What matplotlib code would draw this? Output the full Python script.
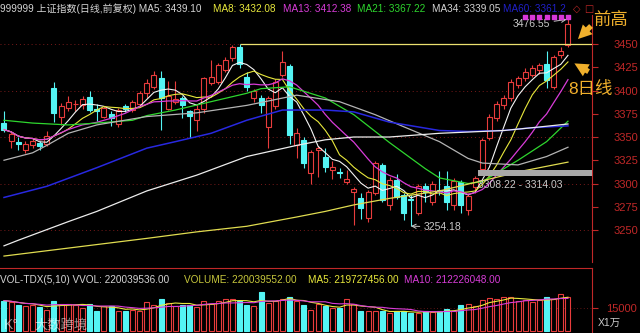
import matplotlib
matplotlib.use("Agg")
import matplotlib.pyplot as plt
import numpy as np
import pandas as pd
from matplotlib.patches import FancyArrowPatch

plt.rcParams["font.family"] = ["Liberation Sans", "Noto Sans CJK SC", "DejaVu Sans"]

# ---- daily candles ----
opens = [3365, 3346, 3345, 3336, 3341, 3344, 3342, 3403, 3372, 3381,
         3385, 3384, 3393, 3380, 3372, 3375, 3364, 3383, 3379, 3386,
         3397, 3404, 3413, 3380, 3388, 3392, 3378, 3368, 3380, 3408,
         3409, 3422, 3435, 3447, 3415, 3392, 3392, 3361, 3383, 3417,
         3426, 3341, 3347, 3311, 3336, 3329, 3315, 3312, 3302, 3291,
         3284, 3263, 3290, 3320, 3277, 3304, 3288, 3283, 3268, 3297,
         3280, 3293, 3297, 3277, 3302, 3272, 3296, 3316, 3349, 3370,
         3384, 3392, 3406, 3413, 3417, 3422, 3429, 3404, 3438, 3449]
closes = [3358, 3353, 3342, 3343, 3346, 3340, 3351, 3376, 3383, 3388,
          3386, 3391, 3379, 3378, 3381, 3370, 3379, 3380, 3388, 3397,
          3408, 3417, 3392, 3394, 3391, 3384, 3373, 3380, 3413, 3415,
          3427, 3433, 3447, 3429, 3404, 3399, 3384, 3392, 3409, 3431,
          3352, 3354, 3322, 3334, 3338, 3318, 3318, 3311, 3305, 3294,
          3274, 3291, 3322, 3282, 3304, 3286, 3268, 3282, 3297, 3291,
          3300, 3292, 3280, 3303, 3277, 3287, 3306, 3347, 3372, 3386,
          3392, 3409, 3413, 3420, 3424, 3427, 3411, 3436, 3443, 3472]
highs = [3378, 3355, 3350, 3346, 3349, 3346, 3356, 3409, 3387, 3394,
         3390, 3394, 3400, 3386, 3383, 3378, 3381, 3385, 3390, 3399,
         3412, 3421, 3421, 3410, 3410, 3394, 3379, 3384, 3415, 3433,
         3430, 3436, 3449, 3450.5, 3420, 3402, 3395, 3394, 3412, 3442,
         3429, 3360, 3350, 3336, 3340, 3338, 3324, 3317, 3315, 3296,
         3290, 3293, 3324, 3322, 3307, 3310, 3290, 3288, 3300, 3301,
         3303, 3313, 3313, 3306, 3304, 3290, 3308.22, 3349, 3375, 3389,
         3395, 3412, 3416, 3424, 3427, 3430, 3442, 3438, 3447, 3476.55]
lows = [3355, 3338, 3336, 3333, 3338, 3336, 3340, 3366, 3363, 3378,
        3378, 3380, 3377, 3367, 3370, 3362, 3361, 3377, 3377, 3384,
        3392, 3402, 3358, 3379, 3385, 3370, 3349, 3357, 3376, 3406,
        3407, 3420, 3432, 3424, 3400, 3388, 3376, 3338, 3380, 3414,
        3343, 3327, 3317, 3300, 3307, 3312, 3305, 3306, 3300, 3255,
        3262, 3259, 3288, 3280, 3271, 3283, 3261, 3254.18, 3266, 3280,
        3277, 3288, 3272, 3271, 3268, 3266, 3290, 3314.03, 3347, 3367,
        3380, 3389, 3403, 3410, 3414, 3418, 3403, 3402, 3435, 3447]
volumes = [19800, 18900, 17200, 16100, 16800, 15400, 13900, 19300, 17600, 17600,
           17200, 15000, 17600, 12900, 16100, 16100, 12900, 12900, 13900, 12900,
           18700, 17200, 21000, 18200, 16100, 17200, 17200, 15400, 19300, 17600,
           19800, 21000, 21000, 19800, 17200, 16100, 25400, 18200, 19800, 21000,
           22000, 19300, 17200, 13900, 17600, 16100, 15000, 15000, 21000, 17600,
           12900, 12900, 13300, 12900, 11700, 12900, 13300, 11700, 11700, 13300,
           12400, 12900, 14600, 12900, 16800, 17600, 16100, 20500, 21600, 21000,
           22000, 22000, 19500, 20000, 19000, 20500, 22000, 21000, 24400, 22004]

# ---- longer moving averages, read at sample candles ----
ma21_k = [0, 4, 9, 13, 18, 20, 24, 29, 34, 36, 40, 45, 49, 54, 59, 61, 65, 67, 72, 76, 79]
ma21_v = [3368, 3365, 3363, 3365, 3368, 3373, 3379, 3388, 3397, 3402, 3404, 3392, 3374,
          3344, 3316, 3306, 3300, 3302, 3325, 3345, 3367]
ma34_k = [0, 4, 6, 9, 13, 20, 27, 34, 41, 47, 52, 56, 61, 63, 65, 67, 72, 76, 79]
ma34_v = [3325, 3333, 3341, 3354, 3363, 3372, 3376, 3384, 3395, 3388, 3374, 3361, 3345,
          3336, 3327, 3322, 3320, 3329, 3339]
ma60_k = [0, 6, 13, 20, 24, 29, 34, 39, 45, 49, 54, 61, 65, 70, 74, 79]
ma60_v = [3285, 3297, 3317, 3338, 3345, 3354, 3368, 3379, 3379, 3377, 3366, 3357, 3356,
          3357, 3360, 3362]
long_w_k = [0, 2, 9, 13, 20, 27, 34, 41, 45, 49, 54, 61, 70, 74, 79]
long_w_v = [3233, 3239, 3259, 3270, 3292, 3309, 3329, 3341, 3347, 3350, 3350, 3354, 3357,
            3360, 3364]
long_y_k = [0, 20, 27, 34, 41, 45, 49, 54, 61, 73, 79]
long_y_v = [3222, 3241, 3248, 3254, 3264, 3270, 3277, 3284, 3292, 3314, 3323]

price_ticks = list(range(3250, 3451, 25))
grid_levels = [3250, 3300, 3350, 3400, 3450]
vol_ticks = [15000]
prev_high_k = 33
gap_low, gap_high = 3308.22, 3314.03

RED = "#e83c3c"
CYAN = "#54f4f4"
AXRED = "#c02828"
GRIDRED = "#7a1a1a"
ORANGE = "#f0b02c"

W, H = 640, 333
fig = plt.figure(figsize=(W / 100, H / 100), dpi=100)
fig.patch.set_facecolor("black")

n = len(closes)
idx = np.arange(n)
o, c, h, l = map(np.array, (opens, closes, highs, lows))
up = c >= o
lo_b, hi_b = np.minimum(o, c), np.maximum(o, c)
cols = np.where(up, RED, CYAN)
xlim = (-0.56, -0.56 + 592 / 7.139)

# ---- price panel ----
ax = fig.add_axes([0, 1 - 262 / H, 592 / W, (262 - 15) / H])
ax.set_facecolor("black")
ax.set_xlim(*xlim)
ax.set_ylim(3215.6, 3481.2)
for lv in grid_levels:
    ax.axhline(lv, color=GRIDRED, lw=0.7, ls=(0, (1, 3)), zorder=0)

ax.vlines(idx, hi_b, h, colors=cols, lw=0.8, zorder=2)
ax.vlines(idx, l, lo_b, colors=cols, lw=0.8, zorder=2)
ax.bar(idx[up], (hi_b - lo_b)[up], bottom=lo_b[up], width=0.7,
       facecolor="black", edgecolor=RED, lw=0.8, zorder=3)
ax.bar(idx[~up], (hi_b - lo_b)[~up], bottom=lo_b[~up], width=0.7,
       facecolor=CYAN, edgecolor=CYAN, lw=0.8, zorder=3)

cs = pd.Series(closes)
ax.plot(idx, cs.rolling(5, min_periods=1).mean(), color="#f4f4f4", lw=0.8, zorder=4)
ax.plot(idx, cs.rolling(8, min_periods=1).mean(), color="#e8e83c", lw=0.8, zorder=4)
ax.plot(idx, cs.rolling(13, min_periods=1).mean(), color="#d83cd8", lw=0.9, zorder=4)
ax.plot(ma21_k, ma21_v, color="#2ed62e", lw=0.9, zorder=4)
ax.plot(ma34_k, ma34_v, color="#b4b4b4", lw=0.9, zorder=4)
ax.plot(ma60_k, ma60_v, color="#2828e0", lw=1.1, zorder=4)
ax.plot(long_w_k, long_w_v, color="#ececec", lw=0.9, zorder=4)
ax.plot(long_y_k, long_y_v, color="#e0dc50", lw=0.9, zorder=4)

# previous high line and gap band
ax.hlines(highs[prev_high_k], prev_high_k, xlim[1], color="#ece070", lw=0.9, zorder=4)
ax.fill_between([66.4, xlim[1]], gap_low, gap_high, color="#a8a8a8", lw=0, zorder=5)

# top markers
ax.scatter(idx[73:], [0.99] * 7, marker="s", s=5, color="#d838d8",
           transform=ax.get_xaxis_transform(), clip_on=False, zorder=6)

lab = dict(color="#c8c8c8", fontsize=7.5)
ax.annotate("3476.55", xy=(79, highs[79]), xytext=(-18, -5), textcoords="offset pixels",
            ha="right", va="center",
            arrowprops=dict(arrowstyle="->", color="#c8c8c8", lw=0.7, shrinkA=1, shrinkB=1),
            **lab)
ax.annotate("3254.18", xy=(57, lows[57]), xytext=(13, -1), textcoords="offset pixels",
            ha="left", va="center",
            arrowprops=dict(arrowstyle="->", color="#c8c8c8", lw=0.7, shrinkA=1, shrinkB=0),
            **lab)
ax.annotate(f"{gap_low:.2f} - {gap_high:.2f}", xy=(66.4, gap_low), xytext=(0, -9),
            textcoords="offset pixels", ha="left", va="center", zorder=7, **lab)

ax.yaxis.tick_right()
ax.set_yticks(price_ticks)
ax.tick_params(axis="y", colors=AXRED, length=4, width=0.8, pad=11.5, labelsize=8)
ax.set_xticks([])
for s in ("top", "bottom", "left"):
    ax.spines[s].set_visible(False)
ax.spines["right"].set_color(AXRED)

# ---- volume panel ----
av = fig.add_axes([0, 0, 592 / W, (H - 268) / H])
av.set_facecolor("black")
av.set_xlim(*xlim)
av.set_ylim(-1250, 41000)
v = np.array(volumes)
av.bar(idx[up], v[up], width=0.7, facecolor="black", edgecolor=RED, lw=0.8)
av.bar(idx[~up], v[~up], width=0.7, facecolor=CYAN, edgecolor=CYAN, lw=0.8)
vs = pd.Series(volumes)
av.plot(idx, vs.rolling(5, min_periods=1).mean(), color="#e8e83c", lw=0.8)
av.plot(idx, vs.rolling(10, min_periods=1).mean(), color="#d83cd8", lw=0.8)
av.axhline(vol_ticks[0], color=GRIDRED, lw=0.6, ls=(0, (1, 3)), zorder=0)
av.yaxis.tick_right()
av.set_yticks(vol_ticks)
av.tick_params(axis="y", colors=AXRED, length=4, width=0.8, pad=6, labelsize=8)
av.set_xticks([])
for s in ("bottom", "left"):
    av.spines[s].set_visible(False)
av.spines["right"].set_color(AXRED)
av.spines["top"].set_color(AXRED)

# ---- overlay for header texts and annotations (pixel coords) ----
ov = fig.add_axes([0, 0, 1, 1], facecolor="none")
ov.set_xlim(0, W)
ov.set_ylim(H, 0)
ov.axis("off")

hdr = [(0, "999999 上证指数(日线,前复权) MA5: 3439.10", "#d4d4d4"),
       (213, "MA8: 3432.08", "#e8e83c"),
       (283, "MA13: 3412.38", "#d83cd8"),
       (357, "MA21: 3367.22", "#2ed62e"),
       (432, "MA34: 3339.05", "#d4d4d4"),
       (503, "MA60: 3361.2", "#2020c8")]
for x, t, col in hdr:
    ov.text(x, 9, t, color=col, fontsize=7.2, ha="left", va="center")
ov.text(577, 9, "◇", color=AXRED, fontsize=7, ha="center", va="center",
        family=["DejaVu Sans"])
ov.text(589, 9, "□", color=AXRED, fontsize=7, ha="center", va="center",
        family=["DejaVu Sans"])

vhdr = [(0, "VOL-TDX(5,10) VVOL: 220039536.00", "#d4d4d4"),
        (184, "VOLUME: 220039552.00", "#c8c83c"),
        (308, "MA5: 219727456.00", "#e8e83c"),
        (404, "MA10: 212226048.00", "#d83cd8")]
for x, t, col in vhdr:
    ov.text(x, 280, t, color=col, fontsize=7.2, ha="left", va="center")
ov.text(598, 323, "X1万", color="#c8c8c8", fontsize=7.5, ha="left", va="center")

ov.text(4, 325, "K°", color="white", alpha=0.55, fontsize=10, ha="left", va="center")
ov.text(34, 325, "大数跨境", color="white", alpha=0.55, fontsize=9.5, ha="left", va="center")

ov.text(610, 20, "前高", color=ORANGE, fontsize=12.5, ha="center", va="center")
ov.text(590, 89, "8日线", color=ORANGE, fontsize=12.5, ha="center", va="center")
style = "simple,head_length=0.9,head_width=0.9,tail_width=0.35"
ov.add_patch(FancyArrowPatch((593, 24), (576, 41), arrowstyle=style,
                             mutation_scale=11, color=ORANGE, lw=0))
ov.add_patch(FancyArrowPatch((591, 73), (572, 62), arrowstyle=style,
                             mutation_scale=11, color=ORANGE, lw=0))

fig.savefig("out.png", dpi=100, facecolor="black")
